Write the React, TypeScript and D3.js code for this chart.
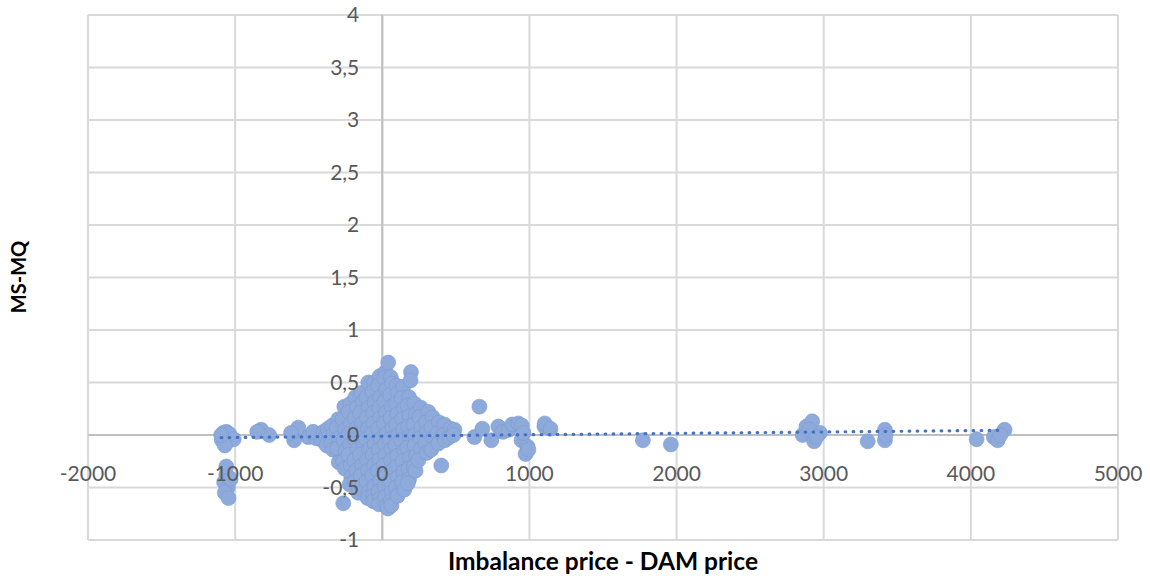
import React, { useEffect, useRef } from 'react';
import * as d3 from 'd3';

// scatter points: imbalance price - DAM price (x) vs MS-MQ (y), grouped roughly by x
const xValues = [
  // around -1000
  -1080, -1060, -1040, -1090, -1050, -1010, -1070, -1060, -1075, -1050, -1070, -1045, -1030, -1060, -1095,
  // around -800 / -550
  -823, -769, -850,
  -571, -599, -503, -450, -620, -470,
  // central blob
  -400, -410,
  -370, -362, -378,
  -340, -332, -347, -335,
  -300, -310, -292, -305, -296,
  -258, -270, -252, -262, -248, -266, -255, -265,
  -215, -228, -212, -225, -218, -230, -214, -211, -222,
  -183, -172, -188, -176, -185, -170, -190, -178, -184, -163,
  -143, -132, -150, -138, -145, -128, -152, -136, -148, -140, -126,
  -95, -108, -92, -104, -98, -110, -90, -102, -96, -106, -94, -100,
  -55, -66, -52, -62, -58, -70, -50, -64, -56, -68, -54, -60, -62,
  -18, -26, -14, -22, -16, -28, -12, -24, -20, -30, -15, -25, -18, -22,
  22, 14, 26, 16, 24, 12, 28, 18, 22, 10, 26, 16, 20, 27,
  40, 38,
  58, 66, 54, 64, 56, 70, 52, 62, 60, 68, 54, 64, 58, 62,
  98, 106, 94, 104, 96, 110, 92, 102, 100, 108, 94, 104,
  143, 132, 148, 136, 142, 128, 150, 138, 144, 134, 150,
  182, 172, 186, 176, 184, 170, 188, 178, 182, 174,
  195, 192,
  218, 228, 214, 224, 220, 230, 216, 226,
  262, 252, 266, 256, 264, 245,
  313, 298, 304, 294, 302,
  342, 334, 348, 333,
  385, 376, 382,
  401,
  422, 414, 426,
  462, 455,
  490, 484,
  // 600 - 1150
  626, 660, 680, 741, 789, 820, 860, 883, 925, 946, 948, 974, 987, 993, 960, 1102, 1104, 1143,
  // far right
  1771, 1961,
  2857, 2883, 2922, 2935, 2974, 2900, 2950,
  3299, 3416, 3416, 3420,
  4039, 4156, 4182, 4229, 4200,
];
const yValues = [
  0.02, 0.03, 0.01, -0.05, -0.06, -0.04, -0.1, -0.38, -0.45, -0.5, -0.55, -0.6, -0.42, -0.3, 0.0,
  0.05, 0.0, 0.03,
  0.07, -0.05, -0.02, -0.03, 0.02, 0.03,
  0.03, -0.05,
  0.06, -0.02, -0.1,
  0.09, 0.0, -0.08, -0.14,
  0.15, 0.07, -0.03, -0.13, -0.26,
  0.27, 0.15, 0.05, -0.05, -0.15, -0.25, -0.32, -0.65,
  0.3, 0.22, 0.11, 0.01, -0.09, -0.19, -0.29, -0.4, -0.47,
  0.36, 0.26, 0.16, 0.06, -0.04, -0.14, -0.24, -0.34, -0.44, -0.55,
  0.4, 0.31, 0.21, 0.11, 0.01, -0.09, -0.19, -0.29, -0.39, -0.49, -0.53,
  0.5, 0.36, 0.26, 0.16, 0.06, -0.04, -0.14, -0.24, -0.34, -0.44, -0.54, -0.6,
  0.5, 0.41, 0.31, 0.21, 0.11, 0.01, -0.09, -0.19, -0.29, -0.39, -0.49, -0.58, -0.63,
  0.56, 0.47, 0.36, 0.26, 0.16, 0.06, -0.04, -0.14, -0.24, -0.34, -0.44, -0.54, -0.61, -0.66,
  0.6, 0.54, 0.43, 0.32, 0.21, 0.11, 0.01, -0.09, -0.19, -0.29, -0.39, -0.49, -0.59, -0.68,
  0.69, -0.7,
  0.55, 0.49, 0.38, 0.27, 0.16, 0.06, -0.04, -0.14, -0.24, -0.34, -0.44, -0.54, -0.63, -0.67,
  0.47, 0.4, 0.3, 0.2, 0.1, 0.0, -0.1, -0.2, -0.3, -0.4, -0.5, -0.58,
  0.46, 0.35, 0.25, 0.15, 0.05, -0.05, -0.15, -0.25, -0.35, -0.45, -0.52,
  0.36, 0.28, 0.18, 0.08, -0.02, -0.12, -0.22, -0.32, -0.42, -0.46,
  0.6, 0.52,
  0.3, 0.2, 0.1, 0.0, -0.1, -0.2, -0.3, -0.34,
  0.26, 0.17, 0.07, -0.03, -0.13, -0.24,
  0.22, 0.12, 0.02, -0.08, -0.17,
  0.17, 0.07, -0.03, -0.14,
  0.12, 0.02, -0.08,
  -0.29,
  0.1, 0.0, -0.05,
  0.06, -0.02,
  0.05, 0.0,
  -0.02, 0.27, 0.06, -0.05, 0.08, 0.03, 0.05, 0.1, 0.11, -0.05, 0.09, -0.18, -0.11, -0.14, 0.02, 0.08, 0.11, 0.06,
  -0.05, -0.09,
  0.0, 0.08, 0.13, -0.06, 0.02, 0.05, -0.02,
  -0.06, 0.05, -0.05, 0.0,
  -0.04, -0.02, -0.05, 0.05, 0.0,
];

// linear trendline endpoints
const trendX = [-1095, 4220];
const trendY = [-0.025, 0.045];

const xTicks = [-2000, -1000, 0, 1000, 2000, 3000, 4000, 5000];
const yTicks = [-1, -0.5, 0, 0.5, 1, 1.5, 2, 2.5, 3, 3.5, 4];

function App() {
  const ref = useRef<SVGSVGElement>(null);

  useEffect(() => {
    const svg = d3.select(ref.current);
    svg.selectAll('*').remove();

    const x = d3.scaleLinear().domain([-2000, 5000]).range([88, 1118]);
    const y = d3.scaleLinear().domain([-1, 4]).range([540, 15]);

    const fmt = (v: number) => String(v).replace('.', ',');

    // gridlines
    const grid = svg.append('g');
    grid.selectAll('line.v')
      .data(xTicks)
      .enter().append('line')
      .attr('x1', d => x(d)).attr('x2', d => x(d))
      .attr('y1', y(4)).attr('y2', y(-1))
      .attr('stroke', '#d9d9d9').attr('stroke-width', 2);
    grid.selectAll('line.h')
      .data(yTicks)
      .enter().append('line')
      .attr('x1', x(-2000)).attr('x2', x(5000))
      .attr('y1', d => y(d)).attr('y2', d => y(d))
      .attr('stroke', '#d9d9d9').attr('stroke-width', 2);

    // axes crossing at zero
    svg.append('line')
      .attr('x1', x(-2000)).attr('x2', x(5000))
      .attr('y1', y(0)).attr('y2', y(0))
      .attr('stroke', '#bfbfbf').attr('stroke-width', 2);
    svg.append('line')
      .attr('x1', x(0)).attr('x2', x(0))
      .attr('y1', y(4)).attr('y2', y(-1))
      .attr('stroke', '#bfbfbf').attr('stroke-width', 2);

    // points
    const pts = xValues.map((v, i) => ({ x: v, y: yValues[i] }));
    svg.append('g').selectAll('circle')
      .data(pts)
      .enter().append('circle')
      .attr('cx', d => x(d.x))
      .attr('cy', d => y(d.y))
      .attr('r', 7.5)
      .attr('fill', '#8eaadb')
      .attr('stroke', '#7d9bd2')
      .attr('stroke-opacity', 0.6)
      .attr('stroke-width', 1);

    // dotted trendline
    svg.append('path')
      .datum(trendX.map((v, i) => [v, trendY[i]] as [number, number]))
      .attr('fill', 'none')
      .attr('stroke', '#4472c4')
      .attr('stroke-width', 3.2)
      .attr('stroke-dasharray', '0.6 7.4')
      .attr('stroke-linecap', 'round')
      .attr('d', d3.line<[number, number]>().x(d => x(d[0])).y(d => y(d[1])));

    // tick labels (drawn over the points, as in the original)
    svg.append('g').selectAll('text')
      .data(xTicks)
      .enter().append('text')
      .attr('x', d => x(d))
      .attr('y', y(0) + 46)
      .attr('text-anchor', 'middle')
      .attr('font-family', 'Lato, sans-serif')
      .attr('font-size', 21)
      .attr('fill', '#595959')
      .text(d => fmt(d));

    svg.append('g').selectAll('text')
      .data(yTicks)
      .enter().append('text')
      .attr('x', x(0) - 23)
      .attr('y', d => y(d))
      .attr('dy', '0.35em')
      .attr('text-anchor', 'end')
      .attr('font-family', 'Lato, sans-serif')
      .attr('font-size', 21)
      .attr('fill', '#595959')
      .text(d => fmt(d));

    // axis titles
    svg.append('text')
      .attr('x', 603)
      .attr('y', 570)
      .attr('text-anchor', 'middle')
      .attr('font-family', 'Lato, sans-serif')
      .attr('font-weight', 'bold')
      .attr('font-size', 24.5)
      .attr('fill', '#000')
      .text('Imbalance price - DAM price');

    svg.append('text')
      .attr('transform', 'translate(26,277) rotate(-90)')
      .attr('text-anchor', 'middle')
      .attr('font-family', 'Lato, sans-serif')
      .attr('font-weight', 'bold')
      .attr('font-size', 20)
      .attr('fill', '#000')
      .text('MS-MQ');
  }, []);

  return (
    <svg ref={ref} width={1150} height={578}
      style={{ position: 'absolute', left: 0, top: 0, background: '#fff' }} />
  );
}

export default App;
